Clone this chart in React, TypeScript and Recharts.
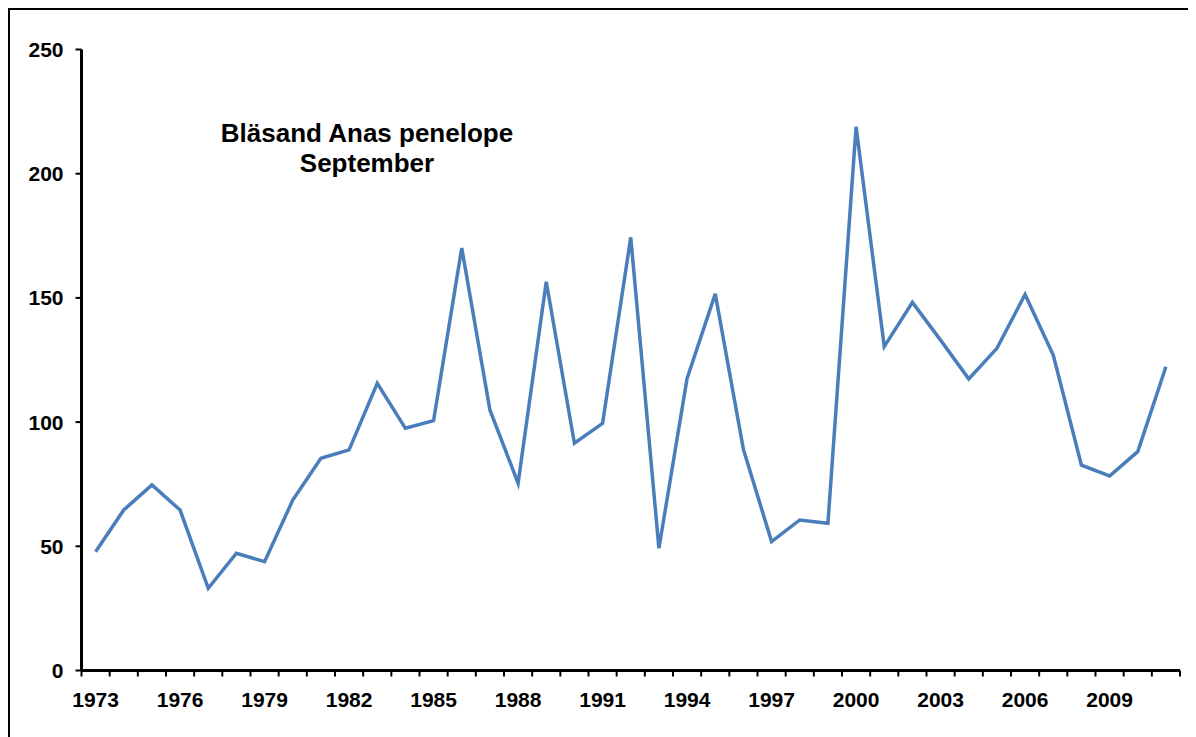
import { Line, LineChart, XAxis, YAxis } from "recharts";

const years = [
  "1973", "1974", "1975", "1976", "1977", "1978", "1979", "1980", "1981", "1982",
  "1983", "1984", "1985", "1986", "1987", "1988", "1989", "1990", "1991", "1992",
  "1993", "1994", "1995", "1996", "1997", "1998", "1999", "2000", "2001", "2002",
  "2003", "2004", "2005", "2006", "2007", "2008", "2009", "2010", "2011",
];

const counts = [
  47.8, 64.6, 74.7, 64.6, 33.1, 47.2, 43.8, 68.6, 85.4, 88.8,
  115.6, 97.5, 100.6, 170.1, 104.9, 75.4, 156.5, 91.5, 99.5, 174.4,
  49.2, 117.6, 151.6, 89.0, 51.9, 60.6, 59.3, 218.9, 130.4, 148.2,
  133.0, 117.4, 129.7, 151.4, 127.0, 82.7, 78.3, 88.1, 122.3,
];

const yTicks = [0, 50, 100, 150, 200, 250];
const titleLines = ["Bläsand Anas penelope", "September"];

const data = years.map((year, i) => ({ year, value: counts[i] }));

const FONT = '"Liberation Sans", Arial, sans-serif';

// year labels every third year, tick marks between categories (Excel style)
const YearTick = (props: any) => {
  const { x, y, payload, index } = props;
  const half = payload?.offset ?? 14;
  const last = index === years.length - 1;
  return (
    <g>
      <line x1={x - half} x2={x - half} y1={y} y2={y + 6} stroke="#000" strokeWidth={2} />
      {last && <line x1={x + half} x2={x + half} y1={y} y2={y + 6} stroke="#000" strokeWidth={2} />}
      {index % 3 === 0 && (
        <text
          x={x}
          y={y + 36}
          textAnchor="middle"
          fontFamily={FONT}
          fontSize={21}
          fontWeight="bold"
          fill="#000"
        >
          {payload.value}
        </text>
      )}
    </g>
  );
};

export default function App() {
  return (
    <div
      style={{
        position: "relative",
        width: 1188,
        height: 729,
        boxSizing: "border-box",
        borderTop: "2px solid #000",
        borderLeft: "2px solid #000",
        background: "#fff",
        fontFamily: FONT,
      }}
    >
      <LineChart
        width={1186}
        height={727}
        data={data}
        margin={{ top: 39.5, right: 16, bottom: 26.5, left: 0 }}
      >
        <XAxis
          dataKey="year"
          scale="band"
          interval={0}
          height={40}
          tickSize={0}
          tickMargin={0}
          tickLine={false}
          axisLine={{ stroke: "#000", strokeWidth: 3 }}
          tick={<YearTick />}
        />
        <YAxis
          width={71.5}
          domain={[0, 250]}
          ticks={yTicks}
          tickSize={6}
          tickMargin={12}
          axisLine={{ stroke: "#000", strokeWidth: 3 }}
          tickLine={{ stroke: "#000", strokeWidth: 2 }}
          tick={{ fill: "#000", fontSize: 21, fontWeight: "bold", fontFamily: FONT }}
        />
        <Line
          type="linear"
          dataKey="value"
          stroke="#4A7EBB"
          strokeWidth={3.5}
          dot={false}
          activeDot={false}
          isAnimationActive={false}
        />
      </LineChart>
      <div
        style={{
          position: "absolute",
          left: 207,
          top: 108,
          width: 300,
          textAlign: "center",
          fontSize: 26,
          lineHeight: "30px",
          fontWeight: "bold",
          color: "#000",
        }}
      >
        {titleLines.map((t) => (
          <div key={t}>{t}</div>
        ))}
      </div>
    </div>
  );
}
